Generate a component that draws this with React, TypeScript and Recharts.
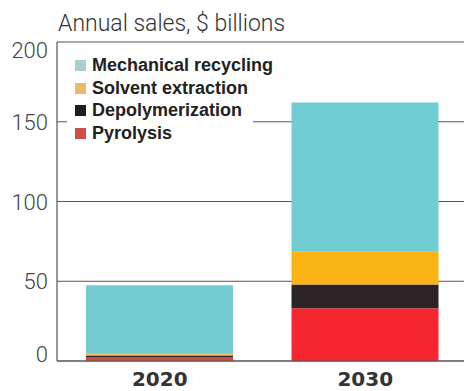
import { BarChart, Bar, XAxis, YAxis, CartesianGrid, Legend, Cell } from 'recharts'

const years = ['2020', '2030']
const pyrolysis = [2.5, 33]
const depolymerization = [1, 15]
const solventExtraction = [1.5, 20.5]
const mechanicalRecycling = [42.5, 93.5]
const yTicks = [0, 50, 100, 150, 200]

const data = years.map((year, i) => ({
  year,
  pyrolysis: pyrolysis[i],
  depolymerization: depolymerization[i],
  solvent: solventExtraction[i],
  mechanical: mechanicalRecycling[i],
}))

// 2020 print looks a bit faded compared with 2030
const fills: Record<string, string[]> = {
  pyrolysis: ['#c4544a', '#f5262f'],
  depolymerization: ['#2a2222', '#2b2527'],
  solvent: ['#eeb65e', '#fbb416'],
  mechanical: ['#72ccd2', '#6fcdd3'],
}

const legendItems = [
  { label: 'Mechanical recycling', color: '#a8d0d0' },
  { label: 'Solvent extraction', color: '#e9bc6c' },
  { label: 'Depolymerization', color: '#1e1e1e' },
  { label: 'Pyrolysis', color: '#cf4f45' },
]

const YTick = ({ x, y, payload }: any) => {
  const dy = payload.value === 200 ? 16 : payload.value === 0 ? 1 : 8
  return (
    <text x={x - 1} y={y + dy} textAnchor="end" fontFamily="Roboto" fontWeight={300} fontSize={22} fill="#444">
      {payload.value}
    </text>
  )
}

const XTick = ({ x, y, payload }: any) => (
  <text x={x} y={y + 17} textAnchor="middle" fontFamily="DejaVu Sans" fontWeight="bold" fontSize={20} fill="#333">
    {payload.value}
  </text>
)

const LegendBox = () => (
  <div style={{ background: '#fff', paddingTop: 1, width: 186 }}>
    {legendItems.map(it => (
      <div key={it.label} style={{ display: 'flex', alignItems: 'center', height: 22.7, whiteSpace: 'nowrap' }}>
        <span style={{ flex: 'none', width: 11, height: 11, background: it.color, marginLeft: 8, marginRight: 6 }} />
        <span style={{ fontFamily: 'Liberation Sans', fontWeight: 'bold', fontSize: 18, color: '#222' }}>{it.label}</span>
      </div>
    ))}
  </div>
)

export default function App() {
  return (
    <div style={{ position: 'relative', width: 464, height: 391, overflow: 'hidden', background: '#fff' }}>
      <style>{'body{margin:0}'}</style>
      <div style={{ position: 'absolute', left: 58, top: 12, fontFamily: 'Roboto', fontWeight: 300, fontSize: 23, lineHeight: '23px', color: '#333', whiteSpace: 'nowrap' }}>
        Annual sales, $ billions
      </div>
      <BarChart width={468} height={391} data={data} margin={{ top: 42, right: 0, left: 0, bottom: 0 }}>
        <CartesianGrid vertical={false} stroke="#555" strokeWidth={1.2} />
        <XAxis dataKey="year" tickLine={false} stroke="#555" strokeWidth={1.2} tick={<XTick />} height={30} />
        <YAxis domain={[0, 200]} ticks={yTicks} width={57} tickLine={false} stroke="#555" strokeWidth={1.2} tick={<YTick />} />
        <Legend
          layout="horizontal"
          verticalAlign="middle"
          align="center"
          content={<LegendBox />}
          wrapperStyle={{ top: 53, left: 67, width: 186 }}
        />
        {(['pyrolysis', 'depolymerization', 'solvent', 'mechanical'] as const).map(key => (
          <Bar key={key} dataKey={key} stackId="a" barSize={147} isAnimationActive={false}>
            {data.map((_, i) => <Cell key={i} fill={fills[key][i]} />)}
          </Bar>
        ))}
      </BarChart>
    </div>
  )
}
